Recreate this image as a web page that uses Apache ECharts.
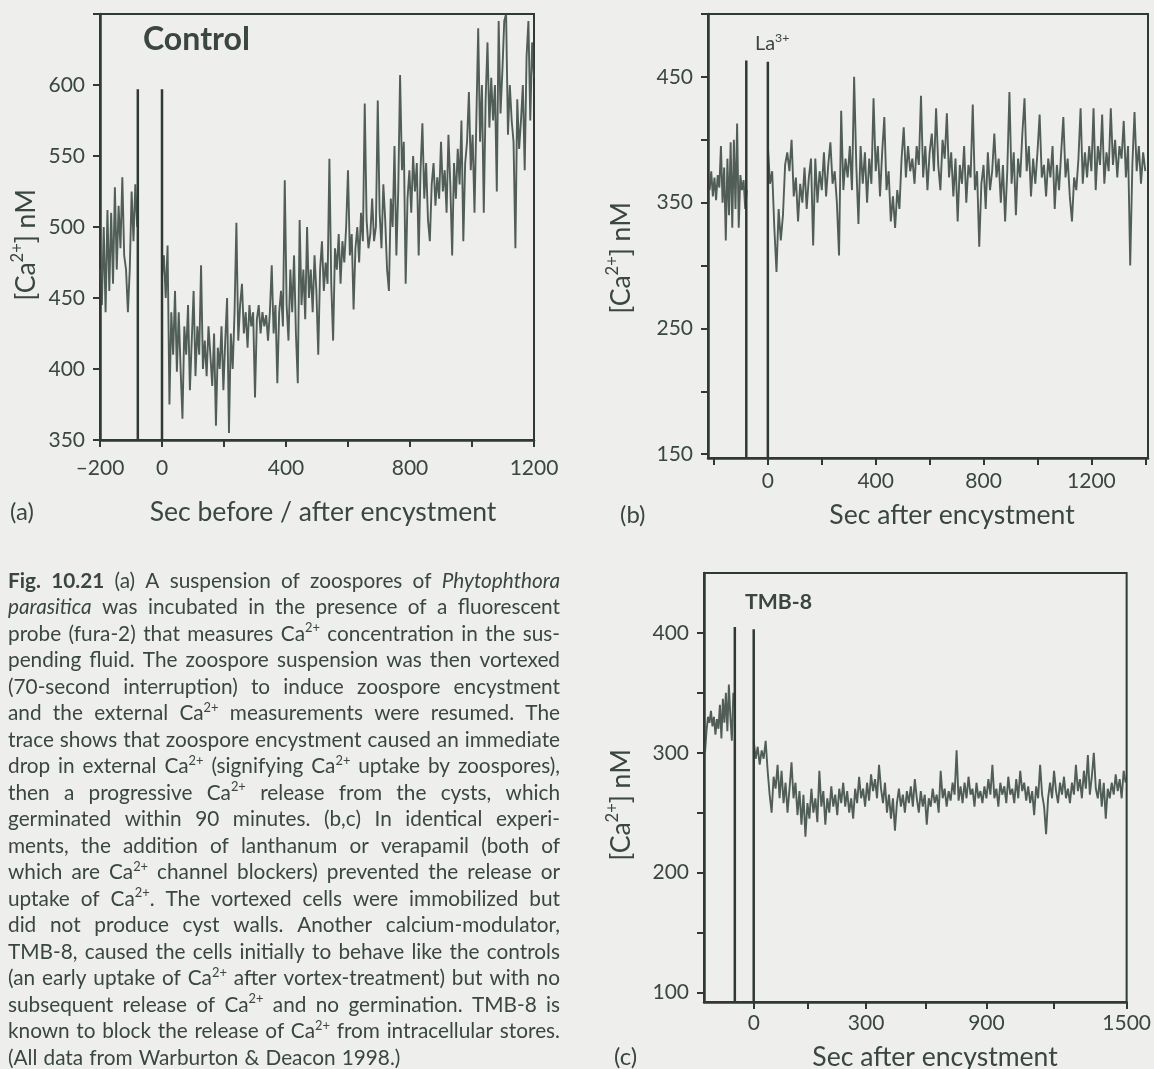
<!DOCTYPE html>
<html>
<head>
<meta charset="utf-8">
<script src="https://cdn.jsdelivr.net/npm/echarts@6/dist/echarts.min.js"></script>
<style>
html, body { margin: 0; padding: 0; background: #eeefed; }
#main { width: 1154px; height: 1069px; }
</style>
</head>
<body>
<div id="main"></div>
<script>
// (a) Control trace: before vortexing and after encystment
var ctrlPreT0 = -200, ctrlPreStep = 6;
var ctrlPre = [470, 445, 500, 440, 512, 455, 510, 460, 528, 470, 515, 485, 535, 480, 470, 440, 470, 525, 490, 530, 500];
var ctrlPostT0 = 0, ctrlPostStep = 6;
var ctrlPost = [
  465, 480, 450, 487, 375, 440, 410, 455, 398, 440,
  400, 365, 430, 410, 445, 385, 420, 455, 395, 430,
  410, 473, 400, 420, 395, 430, 410, 388, 425, 360,
  415, 400, 430, 385, 420, 450, 355, 425, 400, 440,
  503, 420, 445, 460, 425, 440, 415, 445, 430, 440,
  380, 435, 445, 425, 440, 430, 438, 420, 440, 473,
  425, 445, 390, 440, 455, 430, 533, 445, 420, 470,
  440, 480, 425, 390, 505, 445, 470, 435, 500, 450,
  470, 440, 480, 455, 410, 470, 490, 455, 475, 460,
  548, 460, 420, 485, 470, 495, 460, 490, 475, 500,
  540, 480, 495, 442, 485, 500, 475, 510, 490, 587,
  505, 485, 495, 520, 490, 500, 589, 510, 485, 530,
  505, 470, 455, 520, 500, 557, 480, 525, 607, 540,
  560, 460, 520, 540, 510, 550, 525, 545, 480, 540,
  573, 520, 545, 505, 490, 530, 545, 515, 535, 520,
  560, 525, 540, 510, 565, 530, 480, 545, 520, 555,
  530, 575, 490, 545, 560, 595, 540, 565, 510, 575,
  640, 560, 600, 510, 590, 630, 570, 605, 575, 600,
  525, 645, 580, 610, 645, 650, 565, 600, 575, 560,
  485, 590, 555, 575, 600, 540, 620, 645, 575, 630,
  605
];
var ctrlMarkT = [-78, 0];
var ctrlMarkTop = [597, 597];

// (b) La3+ trace
var laPreT0 = -216, laPreStep = 6;
var laPre = [360, 375, 355, 370, 352, 372, 362, 395, 350, 378, 320, 385, 340, 398, 330, 400, 345, 413, 330, 372, 360, 368, 345, 360];
var laPostT0 = 0, laPostStep = 8;
var laPost = [
  395, 365, 375, 330, 295, 345, 320, 340, 380, 390,
  375, 400, 355, 370, 335, 365, 350, 378, 345, 370,
  385, 316, 385, 350, 375, 360, 390, 355, 380, 398,
  365, 375, 350, 308, 423, 360, 385, 370, 395, 360,
  450, 380, 333, 395, 365, 390, 350, 385, 365, 433,
  375, 395, 355, 390, 418, 360, 375, 335, 355, 330,
  360, 345, 385, 410, 370, 395, 375, 385, 365, 395,
  380, 435, 370, 395, 360, 390, 405, 375, 425, 380,
  360, 400, 385, 421, 370, 390, 355, 385, 335, 380,
  365, 395, 350, 380, 370, 428, 360, 375, 315, 365,
  380, 345, 390, 360, 375, 405, 370, 385, 350, 380,
  335, 375, 438, 365, 390, 340, 385, 370, 405, 433,
  375, 395, 355, 385, 365, 390, 420, 370, 380, 355,
  385, 370, 395, 345, 380, 360, 390, 418, 370, 385,
  355, 335, 370, 360, 385, 425, 365, 390, 370, 395,
  375, 425, 360, 395, 380, 420, 365, 390, 375, 425,
  380, 400, 370, 395, 385, 415, 370, 395, 300, 380,
  422, 375, 395, 365, 390, 375
];
var laMarkT = [-80, 0];
var laMarkTop = [463, 462];

// (c) TMB-8 trace
var tmbPreT0 = -196, tmbPreStep = 6;
var tmbPre = [300, 318, 330, 325, 335, 322, 330, 315, 328, 320, 340, 312, 345, 325, 350, 318, 357, 330, 310, 350];
var tmbPostT0 = 0, tmbPostStep = 8;
var tmbPost = [
  310, 295, 305, 290, 302, 295, 310, 285, 265, 250,
  280, 270, 290, 262, 285, 258, 275, 250, 270, 292,
  262, 275, 248, 268, 240, 265, 230, 258, 245, 270,
  250, 262, 242, 285, 255, 268, 240, 262, 250, 272,
  255, 265, 248, 270, 258, 275, 255, 268, 250, 262,
  245, 270, 258, 280, 262, 270, 255, 275, 260, 282,
  268, 278, 262, 290, 270, 258, 275, 250, 265, 245,
  262, 235, 258, 270, 255, 265, 250, 268, 258, 272,
  255, 278, 262, 250, 268, 255, 265, 240, 262, 255,
  270, 258, 265, 250, 285, 262, 270, 255, 268, 260,
  275, 265, 302, 260, 272, 258, 275, 262, 280, 265,
  270, 255, 275, 262, 268, 258, 272, 262, 278, 265,
  290, 262, 270, 255, 275, 265, 272, 258, 280, 265,
  270, 258, 278, 262, 285, 268, 275, 260, 272, 258,
  268, 248, 272, 262, 290, 265, 255, 232, 262, 275,
  262, 285, 268, 258, 275, 265, 280, 262, 270, 258,
  275, 265, 290, 268, 278, 262, 285, 270, 298, 265,
  280, 300, 270, 262, 278, 255, 275, 245, 270, 262,
  275, 265, 282, 268, 278, 262, 285, 275
];
var tmbMarkT = [-76, 0];
var tmbMarkTop = [405, 403];

// axis ticks and labels
var aXTicks = [-200, 0, 200, 400, 600, 800, 1000, 1200];
var aXLabels = [-200, 0, 400, 800, 1200];
var aYTicks = [350, 400, 450, 500, 550, 600, 650];
var aYLabels = [350, 400, 450, 500, 550, 600];
var bXTicks = [-200, 0, 200, 400, 600, 800, 1000, 1200, 1400];
var bXLabels = [0, 400, 800, 1200];
var bYTicks = [150, 200, 250, 300, 350, 400, 450, 500];
var bYLabels = [150, 250, 350, 450];
var cXTicks = [0, 216, 452, 692, 936, 1208, 1500];
var cXLabels = [0, 452, 936, 1500];
var cXLabelText = ['0', '300', '900', '1500'];
var cYTicks = [100, 150, 200, 250, 300, 350, 400];
var cYLabels = [100, 200, 300, 400];

var caption = [
  '*Fig.* *10.21*  (a) A suspension of zoospores of _Phytophthora_',
  '_parasitica_ was incubated in the presence of a fluorescent',
  'probe (fura-2) that measures Ca^2+^ concentration in the sus-',
  'pending fluid. The zoospore suspension was then vortexed',
  '(70-second interruption) to induce zoospore encystment',
  'and the external Ca^2+^ measurements were resumed. The',
  'trace shows that zoospore encystment caused an immediate',
  'drop in external Ca^2+^ (signifying Ca^2+^ uptake by zoospores),',
  'then a progressive Ca^2+^ release from the cysts, which',
  'germinated within 90 minutes. (b,c) In identical experi-',
  'ments, the addition of lanthanum or verapamil (both of',
  'which are Ca^2+^ channel blockers) prevented the release or',
  'uptake of Ca^2+^. The vortexed cells were immobilized but',
  'did not produce cyst walls. Another calcium-modulator,',
  'TMB-8, caused the cells initially to behave like the controls',
  '(an early uptake of Ca^2+^ after vortex-treatment) but with no',
  'subsequent release of Ca^2+^ and no germination. TMB-8 is',
  'known to block the release of Ca^2+^ from intracellular stores.',
  '(All data from Warburton & Deacon 1998.)'
];

var ink = '#2e3a33';
var textInk = '#3a4640';
var traceInk = '#3b4942';
var fam = 'Lato, "Open Sans", sans-serif';

var cv = document.createElement('canvas').getContext('2d');

function parseWord(w) {
  return w.split(/(\^[^\^]+\^|\*[^*]+\*|_[^_]+_)/).filter(Boolean).map(function (p) {
    var c = p.charAt(0);
    if (c === '^') return { k: 's', t: p.slice(1, -1) };
    if (c === '*') return { k: 'b', t: p.slice(1, -1) };
    if (c === '_') return { k: 'i', t: p.slice(1, -1) };
    return { k: 'n', t: p };
  });
}

function fontsFor(fs) {
  return {
    n: fs + 'px ' + fam,
    i: 'italic ' + fs + 'px ' + fam,
    b: 'bold ' + fs + 'px ' + fam,
    s: (fs * 0.62) + 'px ' + fam
  };
}

function wordWidth(segs, fonts) {
  var w = 0;
  segs.forEach(function (s) { cv.font = fonts[s.k]; w += cv.measureText(s.t).width; });
  return w;
}

function lineWidth(line, fonts) {
  var words = line.split(/\s+/).filter(Boolean);
  cv.font = fonts.n;
  var sp = cv.measureText(' ').width;
  return words.reduce(function (a, w) { return a + wordWidth(parseWord(w), fonts); }, 0) + sp * (words.length - 1);
}

// caption size: widest justified line just fits the column
function captionSize() {
  var fonts = fontsFor(20), maxW = 0;
  for (var i = 0; i < caption.length - 1; i++) maxW = Math.max(maxW, lineWidth(caption[i], fonts));
  return 20 * 548 / maxW;
}

function fitSize(text, target, weight) {
  cv.font = (weight || '') + ' 20px ' + fam;
  return 20 * target / cv.measureText(text).width;
}

var capSize = captionSize();
var titleSize = fitSize('Sec before / after encystment', 347);
var tickSize = 21;

var myChart = echarts.init(document.getElementById('main'), null, { renderer: 'canvas' });

function pairs(t0, dt, vals) {
  return vals.map(function (v, i) { return [t0 + i * dt, v]; });
}

function xAxisFor(gi, min, max, ticks, labels, fmt, margin) {
  return {
    type: 'value', gridIndex: gi, min: min, max: max,
    axisLine: { show: true, onZero: false, lineStyle: { color: ink, width: 2.5 } },
    axisTick: { show: true, customValues: ticks, length: 7, lineStyle: { color: ink, width: 2 } },
    axisLabel: { show: true, customValues: labels, margin: margin, color: textInk, fontSize: tickSize, fontFamily: fam, formatter: fmt },
    splitLine: { show: false }
  };
}

function yAxisFor(gi, min, max, ticks, labels) {
  return {
    type: 'value', gridIndex: gi, min: min, max: max,
    axisLine: { show: true, onZero: false, lineStyle: { color: ink, width: 2.5 } },
    axisTick: { show: true, customValues: ticks, length: 7, lineStyle: { color: ink, width: 2 } },
    axisLabel: { show: true, customValues: labels, margin: 15, color: textInk, fontSize: tickSize, fontFamily: fam, formatter: function (v) { return String(v); } },
    splitLine: { show: false }
  };
}

function trace(gi, data) {
  return {
    type: 'line', xAxisIndex: gi, yAxisIndex: gi, data: data,
    showSymbol: false, silent: true, animation: false,
    lineStyle: { color: traceInk, width: 1.9, opacity: 0.88 }
  };
}

function marks(gi, ts, tops, base) {
  return ts.map(function (t, i) {
    return {
      type: 'line', xAxisIndex: gi, yAxisIndex: gi,
      data: [[t, base], [t, tops[i]]],
      showSymbol: false, silent: true, animation: false,
      lineStyle: { color: ink, width: 2.5 }
    };
  });
}

function supStyles(size) {
  return {
    n: { fontSize: size, fontFamily: fam, fill: textInk, lineHeight: size * 1.2 },
    s: { fontSize: size * 0.62, fontFamily: fam, fill: textInk, lineHeight: size * 0.62, verticalAlign: 'top' }
  };
}

function label(x, y, text, size, weight, align, rot) {
  return {
    type: 'text', x: x, y: y, rotation: rot || 0, silent: true,
    style: { text: text, fontSize: size, fontFamily: fam, fontWeight: weight || 'normal', fill: textInk, align: align || 'left', verticalAlign: 'middle' }
  };
}

function richLabel(x, y, text, rich, align, rot) {
  return {
    type: 'text', x: x, y: y, rotation: rot || 0, silent: true,
    style: { text: text, rich: rich, fill: textInk, align: align || 'center', verticalAlign: 'middle' }
  };
}

/**
 * caption paragraph, justified word by word
 */
function buildCaption() {
  var fs = capSize, sfs = fs * 0.62;
  var fonts = fontsFor(fs);
  var lh = fs * 1.2;
  var rich = {
    n: { fontSize: fs, fontFamily: fam, fill: textInk, lineHeight: lh },
    i: { fontSize: fs, fontFamily: fam, fontStyle: 'italic', fill: textInk, lineHeight: lh },
    b: { fontSize: fs, fontFamily: fam, fontWeight: 'bold', fill: textInk, lineHeight: lh },
    s: { fontSize: sfs, fontFamily: fam, fill: textInk, lineHeight: sfs, verticalAlign: 'top' }
  };
  var left = 8, right = 560, top = 581, gap = 26.5;
  var els = [];
  cv.font = fonts.n;
  var spaceW = cv.measureText(' ').width;

  caption.forEach(function (line, li) {
    var words = line.split(/\s+/).filter(Boolean).map(function (w) {
      var segs = parseWord(w);
      var str = segs.map(function (s) { return '{' + s.k + '|' + s.t + '}'; }).join('');
      return { str: str, w: wordWidth(segs, fonts) };
    });
    var total = words.reduce(function (a, w) { return a + w.w; }, 0);
    var space = (li < caption.length - 1 && words.length > 1) ? (right - left - total) / (words.length - 1) : spaceW * 1.15;
    var x = left;
    var y = top + li * gap;
    words.forEach(function (w) {
      els.push({
        type: 'text', x: x, y: y, silent: true,
        style: { text: w.str, rich: rich, fill: textInk, align: 'left', verticalAlign: 'middle' }
      });
      x += w.w + space;
    });
  });
  return els;
}

var option = {
  backgroundColor: '#eeefed',
  animation: false,
  grid: [
    { left: 100, top: 14, width: 434, height: 426, show: true, borderColor: ink, borderWidth: 2, backgroundColor: 'transparent' },
    { left: 708, top: 14, width: 440, height: 444, show: true, borderColor: ink, borderWidth: 2, backgroundColor: 'transparent' },
    { left: 704, top: 573, width: 425, height: 429, show: true, borderColor: ink, borderWidth: 2, backgroundColor: 'transparent' }
  ],
  xAxis: [
    xAxisFor(0, -200, 1200, aXTicks, aXLabels, function (v) { return v < 0 ? '\u2013' + Math.abs(v) : String(v); }, 18),
    xAxisFor(1, -222, 1410, bXTicks, bXLabels, function (v) { return String(v); }, 13),
    xAxisFor(2, -200, 1500, cXTicks, cXLabels, function (v) {
      var k = cXLabels.indexOf(v);
      return k >= 0 ? cXLabelText[k] : '';
    }, 11)
  ],
  yAxis: [
    yAxisFor(0, 350, 650, aYTicks, aYLabels),
    yAxisFor(1, 147, 500, bYTicks, bYLabels),
    yAxisFor(2, 92, 450, cYTicks, cYLabels)
  ],
  series: [].concat(
    [trace(0, pairs(ctrlPreT0, ctrlPreStep, ctrlPre)), trace(0, pairs(ctrlPostT0, ctrlPostStep, ctrlPost))],
    marks(0, ctrlMarkT, ctrlMarkTop, 350),
    [trace(1, pairs(laPreT0, laPreStep, laPre)), trace(1, pairs(laPostT0, laPostStep, laPost))],
    marks(1, laMarkT, laMarkTop, 147),
    [trace(2, pairs(tmbPreT0, tmbPreStep, tmbPre)), trace(2, pairs(tmbPostT0, tmbPostStep, tmbPost))],
    marks(2, tmbMarkT, tmbMarkTop, 92)
  ),
  graphic: [].concat([
    label(143, 40, 'Control', fitSize('Control', 107, 'bold'), 'bold', 'left'),
    richLabel(755, 44, '{n|La}{s|3+}', supStyles(titleSize * 0.75), 'left'),
    label(745, 602, 'TMB-8', fitSize('TMB-8', 67, 'bold'), 'bold', 'left'),
    richLabel(26, 245, '{n|[Ca}{s|2+}{n|] nM}', supStyles(titleSize), 'center', Math.PI / 2),
    richLabel(621, 258, '{n|[Ca}{s|2+}{n|] nM}', supStyles(titleSize), 'center', Math.PI / 2),
    richLabel(621, 805, '{n|[Ca}{s|2+}{n|] nM}', supStyles(titleSize), 'center', Math.PI / 2),
    label(323, 512, 'Sec before / after encystment', titleSize, 'normal', 'center'),
    label(952, 515, 'Sec after encystment', titleSize, 'normal', 'center'),
    label(935, 1057, 'Sec after encystment', titleSize, 'normal', 'center'),
    label(10, 512, '(a)', titleSize * 0.9, 'normal', 'left'),
    label(620, 515, '(b)', titleSize * 0.9, 'normal', 'left'),
    label(614, 1057, '(c)', titleSize * 0.9, 'normal', 'left')
  ], buildCaption())
};

myChart.setOption(option);
</script>
</body>
</html>
